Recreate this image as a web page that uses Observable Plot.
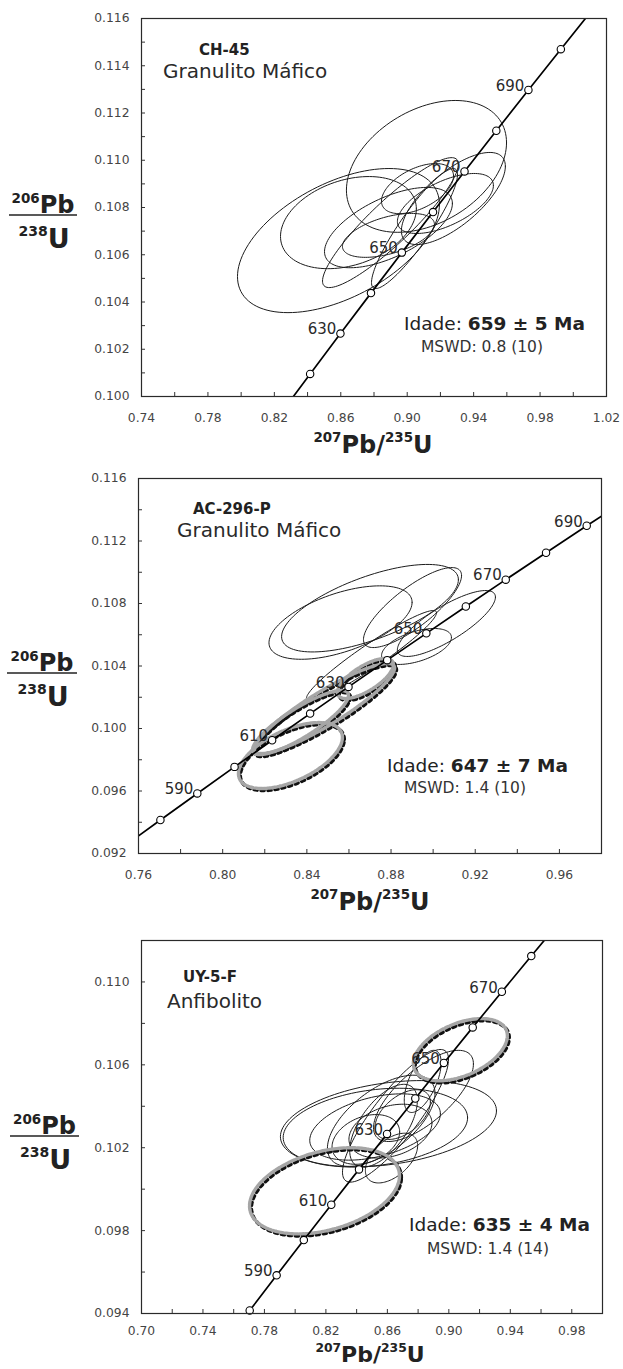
<!DOCTYPE html>
<html><head><meta charset="utf-8">
<script src="https://cdn.jsdelivr.net/npm/d3@7"></script>
<script src="https://cdn.jsdelivr.net/npm/@observablehq/plot@0.6"></script>
<style>
body{margin:0;background:#fff;}
#wrap{position:relative;width:623px;height:1369px;overflow:hidden;background:#fff;}
#wrap svg{position:absolute;left:0;}
</style></head><body><div id="wrap"></div>
<script>
// Concordia reference points (age in Ma, 207Pb/235U, 206Pb/238U)
const concordiaAge = [560, 570, 580, 590, 600, 610, 620, 630, 640, 650, 660, 670, 680, 690, 700, 710, 720];
const concordiaX = [0.73588, 0.75306, 0.77041, 0.78794, 0.80563, 0.82350, 0.84155, 0.85978, 0.87818, 0.89677, 0.91554, 0.93450, 0.95365, 0.97298, 0.99251, 1.01223, 1.03215];
const concordiaY = [0.090755, 0.092448, 0.094144, 0.095843, 0.097544, 0.099248, 0.100955, 0.102664, 0.104376, 0.106090, 0.107807, 0.109527, 0.111249, 0.112975, 0.114702, 0.116433, 0.118166];

// Panel 1: CH-45 — ellipses [x, y, halfX, halfY, rho]
const p1Ellipses = [
  [0.8586, 0.10660, 0.0608, 0.00305, 0.50],
  [0.8646, 0.10736, 0.0409, 0.00195, 0.30],
  [0.9116, 0.10974, 0.0482, 0.00279, 0.36],
  [0.9278, 0.10838, 0.0313, 0.00195, 0.70],
  [0.8899, 0.10736, 0.0409, 0.00275, 0.90],
  [0.9044, 0.10711, 0.0259, 0.00254, 0.90],
  [0.8887, 0.10682, 0.0277, 0.00093, 0.50],
  [0.8887, 0.10715, 0.0385, 0.00170, 0.60],
  [0.9230, 0.10817, 0.0289, 0.00127, 0.60],
  [0.9062, 0.10880, 0.0217, 0.00106, 0.50]
];
const p1Gray = [];
const p1XTicks = [0.74, 0.78, 0.82, 0.86, 0.90, 0.94, 0.98, 1.02];
const p1XMinor = [0.76, 0.78, 0.80, 0.82, 0.84, 0.86, 0.88, 0.90, 0.92, 0.94, 0.96, 0.98, 1.00];
const p1YTicks = [0.100, 0.102, 0.104, 0.106, 0.108, 0.110, 0.112, 0.114, 0.116];
const p1YMinor = [0.101, 0.102, 0.103, 0.104, 0.105, 0.106, 0.107, 0.108, 0.109, 0.110, 0.111, 0.112, 0.113, 0.114, 0.115];

// Panel 2: AC-296-P
const p2Ellipses = [
  [0.8560, 0.10678, 0.0340, 0.00235, 0.55],
  [0.8700, 0.10770, 0.0420, 0.00280, 0.65],
  [0.8902, 0.10774, 0.0233, 0.00256, 0.80],
  [0.9063, 0.10672, 0.0233, 0.00211, 0.80],
  [0.8921, 0.10525, 0.0166, 0.00115, 0.50],
  [0.8707, 0.10467, 0.0309, 0.00288, 0.95]
];
const p2Gray = [
  [0.8322, 0.09827, 0.0247, 0.00211, 0.55],
  [0.8484, 0.10128, 0.0333, 0.00288, 0.90],
  [0.8370, 0.10038, 0.0228, 0.00205, 0.85],
  [0.8678, 0.10320, 0.0133, 0.00128, 0.70]
];
const p2XTicks = [0.76, 0.80, 0.84, 0.88, 0.92, 0.96];
const p2XMinor = [0.78, 0.80, 0.82, 0.84, 0.86, 0.88, 0.90, 0.92, 0.94, 0.96];
const p2YTicks = [0.092, 0.096, 0.100, 0.104, 0.108, 0.112, 0.116];
const p2YMinor = [0.094, 0.096, 0.098, 0.100, 0.102, 0.104, 0.106, 0.108, 0.110, 0.112, 0.114];

// Panel 3: UY-5-F
const p3Ellipses = [
  [0.8607, 0.10316, 0.0703, 0.00208, 0.30],
  [0.8522, 0.10297, 0.0600, 0.00190, 0.25],
  [0.8653, 0.10354, 0.0345, 0.00320, 0.85],
  [0.8560, 0.10330, 0.0350, 0.00220, 0.60],
  [0.8835, 0.10450, 0.0325, 0.00220, 0.70],
  [0.8627, 0.10150, 0.0170, 0.00120, 0.50],
  [0.8520, 0.10300, 0.0425, 0.00160, 0.40],
  [0.8575, 0.10306, 0.0220, 0.00200, 0.60],
  [0.8620, 0.10280, 0.0270, 0.00130, 0.30],
  [0.8700, 0.10360, 0.0180, 0.00120, 0.50],
  [0.8460, 0.10240, 0.0220, 0.00120, 0.30],
  [0.8830, 0.10520, 0.0120, 0.00150, 0.60]
];
const p3Gray = [
  [0.9075, 0.10673, 0.0306, 0.00150, 0.45],
  [0.8191, 0.09992, 0.0488, 0.00208, 0.35]
];
const p3XTicks = [0.70, 0.74, 0.78, 0.82, 0.86, 0.90, 0.94, 0.98];
const p3XMinor = [0.72, 0.74, 0.76, 0.78, 0.80, 0.82, 0.84, 0.86, 0.88, 0.90, 0.92, 0.94, 0.96, 0.98];
const p3YTicks = [0.094, 0.098, 0.102, 0.106, 0.110];
const p3YMinor = [0.096, 0.098, 0.100, 0.102, 0.104, 0.106, 0.108, 0.110];

const sampleNames = ["CH-45", "AC-296-P", "UY-5-F"];
const rockTypes = ["Granulito Máfico", "Granulito Máfico", "Anfibolito"];
const ages = ["659 ± 5 Ma", "647 ± 7 Ma", "635 ± 4 Ma"];
const mswd = ["MSWD: 0.8 (10)", "MSWD: 1.4 (10)", "MSWD: 1.4 (14)"];

const FONT = "DejaVu Sans, sans-serif";
const conc = concordiaAge.map((a, i) => ({age: a, x: concordiaX[i], y: concordiaY[i]}));

function outline(list) {
  const out = [];
  list.forEach((e, k) => {
    const [cx, cy, sx, sy, r] = e;
    const q = Math.sqrt(1 - r * r);
    for (let i = 0; i <= 120; i++) {
      const t = i / 120 * 2 * Math.PI;
      out.push({k, x: cx + sx * Math.cos(t), y: cy + sy * (r * Math.cos(t) + q * Math.sin(t))});
    }
  });
  return out;
}

function txt(svg, x, y, anchor, spans, fill = "#222") {
  const t = d3.select(svg).append("text").attr("x", x).attr("y", y).attr("text-anchor", anchor)
    .attr("font-family", FONT).attr("fill", fill);
  for (const s of spans) {
    const ts = t.append("tspan").attr("font-size", s.size).text(s.t);
    if (s.b) ts.attr("font-weight", "bold");
    if (s.dy) ts.attr("dy", s.dy);
  }
}

function panel(c) {
  const frameW = 623 - c.mL - c.mR, frameH = c.height - c.mT - c.mB;
  const inDom = d => d.x >= c.xDom[0] && d.x <= c.xDom[1] && d.y >= c.yDom[0] && d.y <= c.yDom[1];
  const svg = Plot.plot({
    width: 623, height: c.height,
    marginLeft: c.mL, marginRight: c.mR, marginTop: c.mT, marginBottom: c.mB,
    style: {fontFamily: FONT, fontSize: "12.3px", background: "transparent", color: "#444", overflow: "visible"},
    x: {domain: c.xDom, ticks: c.xTicks, tickSize: 0, tickPadding: c.xPad, tickFormat: d3.format(".2f"), label: null},
    y: {domain: c.yDom, ticks: c.yTicks, tickSize: 0, tickPadding: 12, tickFormat: d3.format(".3f"), label: null},
    marks: [
      Plot.line(outline(c.ell), {x: "x", y: "y", z: "k", stroke: "#1c1c1c", strokeWidth: 1, clip: true}),
      Plot.line(outline(c.gray), {x: "x", y: "y", z: "k", stroke: "#111", strokeWidth: 3.6, strokeDasharray: "3,4", dx: 1.8, dy: 2, clip: true}),
      Plot.line(outline(c.gray), {x: "x", y: "y", z: "k", stroke: "#a6a6a6", strokeWidth: 3.4, strokeDasharray: "4.5,1.2", clip: true}),
      Plot.line(conc, {x: "x", y: "y", stroke: "#000", strokeWidth: 1.7, clip: true}),
      Plot.dot(conc.filter(inDom), {x: "x", y: "y", r: 3.7, fill: "white", stroke: "#000", strokeWidth: 1.1}),
      Plot.text(conc.filter(d => inDom(d) && d.age % 20 === 10), {x: "x", y: "y", text: d => String(d.age), textAnchor: "end", dx: -4, dy: -4, fontSize: 15, fill: "#2a2a2a"}),
      Plot.ruleX(c.xMinor, {x: d => d, insetTop: frameH - 4, stroke: "#333"}),
      Plot.ruleY(c.yMinor, {y: d => d, insetRight: frameW - 4, stroke: "#333"}),
      Plot.frame({stroke: "#2a2a2a", strokeWidth: 1.2})
    ]
  });
  svg.style.top = c.top + "px";
  const i = c.idx;
  txt(svg, c.name[0], c.name[1], "start", [{t: sampleNames[i], size: 15, b: true}]);
  txt(svg, c.rock[0], c.rock[1], "start", [{t: rockTypes[i], size: 20}], "#2a2a2a");
  txt(svg, c.age[0], c.age[1], "start", [{t: "Idade:\u00a0", size: 18.5}, {t: ages[i], size: 18.5, b: true}]);
  txt(svg, c.msw[0], c.msw[1], "start", [{t: mswd[i], size: 15.5}], "#333");
  // y-axis title as a fraction
  d3.select(svg).append("line").attr("x1", c.frac[0]).attr("x2", c.frac[1]).attr("y1", c.frac[2]).attr("y2", c.frac[2])
    .attr("stroke", "#222").attr("stroke-width", 1.4);
  const fx = (c.frac[0] + c.frac[1]) / 2;
  txt(svg, fx, c.frac[2] - 2, "middle", [{t: "206", size: 13.5, b: true, dy: -10}, {t: "Pb", size: 24, b: true, dy: 10}]);
  txt(svg, fx + 1, c.frac[2] + 33, "middle", [{t: "238", size: 14, b: true, dy: -12}, {t: "U", size: 27, b: true, dy: 12}]);
  // x-axis title
  const big = c.xtSize, small = c.xtSize * 0.56, sh = c.xtSize * 0.45;
  txt(svg, c.xt[0], c.xt[1], "middle", [{t: "207", size: small, b: true, dy: -sh}, {t: "Pb/", size: big, b: true, dy: sh}, {t: "235", size: small, b: true, dy: -sh}, {t: "U", size: big, b: true, dy: sh}]);
  document.getElementById("wrap").appendChild(svg);
}

panel({idx: 0, top: 0, height: 460, mL: 141, mR: 17, mT: 18, mB: 64, xPad: 17,
  xDom: [0.74, 1.02], yDom: [0.100, 0.116], xTicks: p1XTicks, yTicks: p1YTicks, xMinor: p1XMinor, yMinor: p1YMinor,
  ell: p1Ellipses, gray: p1Gray,
  name: [199, 55], rock: [163, 78], age: [404, 330], msw: [421, 352], frac: [9, 77, 215], xt: [373, 453], xtSize: 24});
panel({idx: 1, top: 460, height: 460, mL: 138, mR: 22, mT: 18, mB: 67, xPad: 17,
  xDom: [0.76, 0.98], yDom: [0.092, 0.116], xTicks: p2XTicks, yTicks: p2YTicks, xMinor: p2XMinor, yMinor: p2YMinor,
  ell: p2Ellipses, gray: p2Gray,
  name: [193, 54], rock: [177, 77], age: [387, 312], msw: [404, 333], frac: [7, 77, 213], xt: [370, 450], xtSize: 24});
panel({idx: 2, top: 920, height: 449, mL: 141, mR: 21, mT: 20, mB: 56, xPad: 13,
  xDom: [0.70, 1.00], yDom: [0.094, 0.112], xTicks: p3XTicks, yTicks: p3YTicks, xMinor: p3XMinor, yMinor: p3YMinor,
  ell: p3Ellipses, gray: p3Gray,
  name: [183, 62], rock: [167, 88], age: [409, 311], msw: [427, 334], frac: [10, 79, 216], xt: [370, 442], xtSize: 22});
</script>
</body></html>
